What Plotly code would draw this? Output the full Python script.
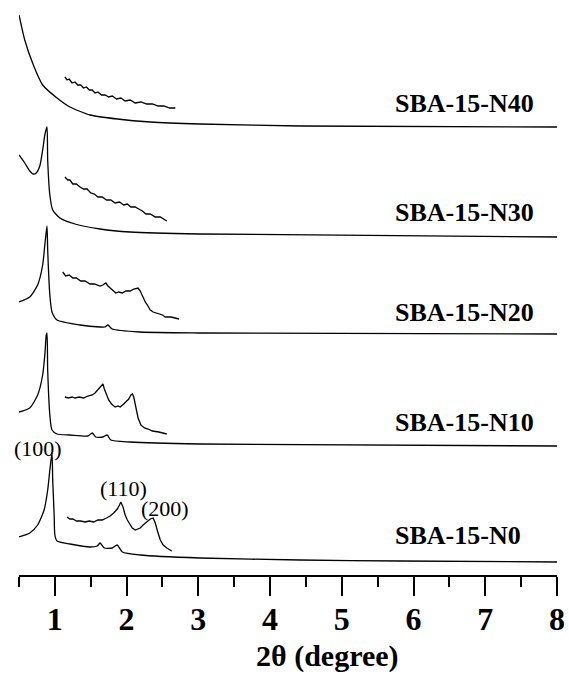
import plotly.graph_objects as go

# 2theta (degree) and stacked intensity (a.u., offset)
n0_x = [0.5, 0.65, 0.76, 0.85, 0.90, 0.93, 0.96, 0.97, 0.99, 1.0, 1.03, 1.21, 1.49, 1.59, 1.63, 1.69, 1.80, 1.87, 1.94, 2.19, 3.02, 4.42, 5.81, 8.0]
n0_y = [38, 42, 50, 65, 85, 105, 122, 95, 60, 40, 34, 31, 28, 29, 32, 27, 27, 30, 23, 20, 17, 15, 14, 13]
n0_ix = [1.17, 1.21, 1.25, 1.30, 1.36, 1.42, 1.48, 1.54, 1.60, 1.66, 1.72, 1.77, 1.82, 1.87, 1.90, 1.92, 1.95, 1.98, 2.01, 2.05, 2.08, 2.12, 2.15, 2.19, 2.23, 2.28, 2.33, 2.37, 2.40, 2.43, 2.47, 2.51, 2.56, 2.63]
n0_iy = [58, 56, 56, 54, 54, 53, 54, 53, 55, 55, 57, 59, 62, 66, 70, 73, 68, 60, 55, 50, 47, 45, 46, 47, 50, 53, 56, 57, 52, 44, 35, 30, 27, 24]

n10_x = [0.5, 0.65, 0.76, 0.83, 0.86, 0.88, 0.89, 0.90, 0.93, 0.96, 1.03, 1.21, 1.46, 1.52, 1.57, 1.67, 1.73, 1.78, 2.05, 3.02, 8.0]
n10_y = [163, 167, 180, 200, 220, 240, 242, 205, 160, 145, 141, 140, 139, 142, 138, 138, 140, 135, 133, 131, 129]
n10_ix = [1.14, 1.19, 1.24, 1.28, 1.34, 1.40, 1.46, 1.52, 1.56, 1.60, 1.63, 1.67, 1.69, 1.72, 1.75, 1.79, 1.84, 1.88, 1.91, 1.96, 1.99, 2.03, 2.06, 2.08, 2.10, 2.13, 2.16, 2.20, 2.25, 2.30, 2.36, 2.45, 2.56]
n10_iy = [178, 177, 178, 177, 178, 177, 179, 180, 182, 185, 187, 191, 186, 180, 175, 171, 168, 169, 168, 171, 173, 176, 180, 181, 178, 168, 157, 150, 147, 146, 144, 143, 141]

n20_x = [0.5, 0.65, 0.76, 0.83, 0.86, 0.89, 0.90, 0.93, 0.96, 1.03, 1.35, 1.63, 1.70, 1.74, 1.80, 2.19, 3.02, 8.0]
n20_y = [273, 278, 290, 310, 330, 349, 325, 280, 263, 255, 250, 248, 248, 250, 246, 243, 242, 241]
n20_ix = [1.11, 1.15, 1.20, 1.25, 1.30, 1.36, 1.42, 1.49, 1.55, 1.63, 1.67, 1.71, 1.74, 1.77, 1.81, 1.85, 1.89, 1.94, 1.99, 2.05, 2.10, 2.16, 2.19, 2.22, 2.26, 2.29, 2.33, 2.37, 2.44, 2.50, 2.54, 2.62, 2.73]
n20_iy = [303, 299, 300, 297, 297, 294, 294, 291, 291, 289, 290, 292, 289, 287, 284, 282, 283, 282, 284, 284, 286, 287, 284, 279, 273, 270, 265, 263, 261, 260, 258, 258, 256]

n30_x = [0.5, 0.58, 0.65, 0.70, 0.74, 0.79, 0.83, 0.86, 0.89, 0.90, 0.93, 0.97, 1.07, 1.28, 1.63, 2.05, 3.02, 8.0]
n30_y = [420, 412, 404, 401, 402, 409, 425, 440, 448, 415, 380, 365, 357, 351, 346, 343, 341, 338]
n30_ix = [1.14, 1.18, 1.21, 1.25, 1.30, 1.35, 1.40, 1.45, 1.50, 1.55, 1.60, 1.66, 1.72, 1.78, 1.84, 1.90, 1.96, 2.01, 2.06, 2.12, 2.17, 2.22, 2.27, 2.33, 2.40, 2.47, 2.56]
n30_iy = [398, 395, 395, 391, 391, 388, 386, 386, 382, 381, 378, 378, 375, 375, 372, 373, 370, 371, 368, 368, 366, 364, 361, 361, 358, 358, 354]

n40_x = [0.5, 0.58, 0.70, 0.83, 1.03, 1.21, 1.49, 1.87, 2.33, 3.02, 4.42, 8.0]
n40_y = [560, 535, 510, 490, 477, 468, 460, 456, 453, 451, 449, 448]
n40_ix = [1.14, 1.17, 1.20, 1.24, 1.28, 1.32, 1.36, 1.40, 1.44, 1.48, 1.52, 1.56, 1.60, 1.65, 1.70, 1.75, 1.80, 1.86, 1.92, 1.98, 2.05, 2.12, 2.20, 2.28, 2.36, 2.44, 2.52, 2.60, 2.68]
n40_iy = [498, 495, 496, 492, 493, 490, 490, 487, 488, 485, 485, 482, 483, 480, 480, 478, 479, 476, 477, 474, 475, 472, 473, 471, 471, 469, 469, 467, 467]

sample_names = ["SBA-15-N0", "SBA-15-N10", "SBA-15-N20", "SBA-15-N30", "SBA-15-N40"]
label_y = [40, 153, 263, 363, 472]
label_x = 5.72

peak_labels = ["(100)", "(110)", "(200)"]
peak_x = [0.76, 1.95, 2.54]
peak_y = [127, 87, 67]

tick_vals = [1, 2, 3, 4, 5, 6, 7, 8]
minor_vals = [0.5, 1.5, 2.5, 3.5, 4.5, 5.5, 6.5, 7.5]

SERIF = "Liberation Serif, Times New Roman, serif"

fig = go.Figure()
main_curves = [(n0_x, n0_y), (n10_x, n10_y), (n20_x, n20_y), (n30_x, n30_y), (n40_x, n40_y)]
inset_curves = [(n0_ix, n0_iy), (n10_ix, n10_iy), (n20_ix, n20_iy), (n30_ix, n30_iy), (n40_ix, n40_iy)]
for cx, cy in main_curves:
    fig.add_trace(go.Scatter(x=cx, y=cy, mode="lines",
                             line=dict(color="black", width=1.3, shape="spline", smoothing=0.6),
                             showlegend=False, hoverinfo="skip"))
for cx, cy in inset_curves:
    fig.add_trace(go.Scatter(x=cx, y=cy, mode="lines",
                             line=dict(color="black", width=1.3),
                             showlegend=False, hoverinfo="skip"))

for name, ly in zip(sample_names, label_y):
    fig.add_annotation(x=label_x, y=ly, text="<b>%s</b>" % name, showarrow=False,
                       xanchor="left", yanchor="middle",
                       font=dict(family=SERIF, size=26, color="black"))

for t, px, py in zip(peak_labels, peak_x, peak_y):
    fig.add_annotation(x=px, y=py, text=t, showarrow=False,
                       xanchor="center", yanchor="middle",
                       font=dict(family=SERIF, size=22, color="black"))

fig.add_annotation(x=4.80, y=-0.141, xref="x", yref="paper",
                   text="<b>2θ (degree)</b>", showarrow=False,
                   xanchor="center", yanchor="middle",
                   font=dict(family=SERIF, size=30, color="black"))

fig.update_layout(
    width=569, height=676,
    margin=dict(l=19, r=12, t=0, b=101),
    paper_bgcolor="white", plot_bgcolor="white",
    xaxis=dict(range=[0.5, 8], tickvals=tick_vals, ticktext=[str(v) for v in tick_vals],
               showgrid=False, zeroline=False, showline=True, linecolor="black", linewidth=2,
               ticks="outside", ticklen=19, tickwidth=2, tickcolor="black",
               ticklabelstandoff=-4,
               tickfont=dict(family=SERIF, size=32, color="black", weight="bold"),
               minor=dict(tickvals=minor_vals, ticks="outside",
                          ticklen=10, tickwidth=2, tickcolor="black", showgrid=False),
               fixedrange=True),
    yaxis=dict(range=[0, 575], visible=False, fixedrange=True),
)

fig.write_html("out.html")
